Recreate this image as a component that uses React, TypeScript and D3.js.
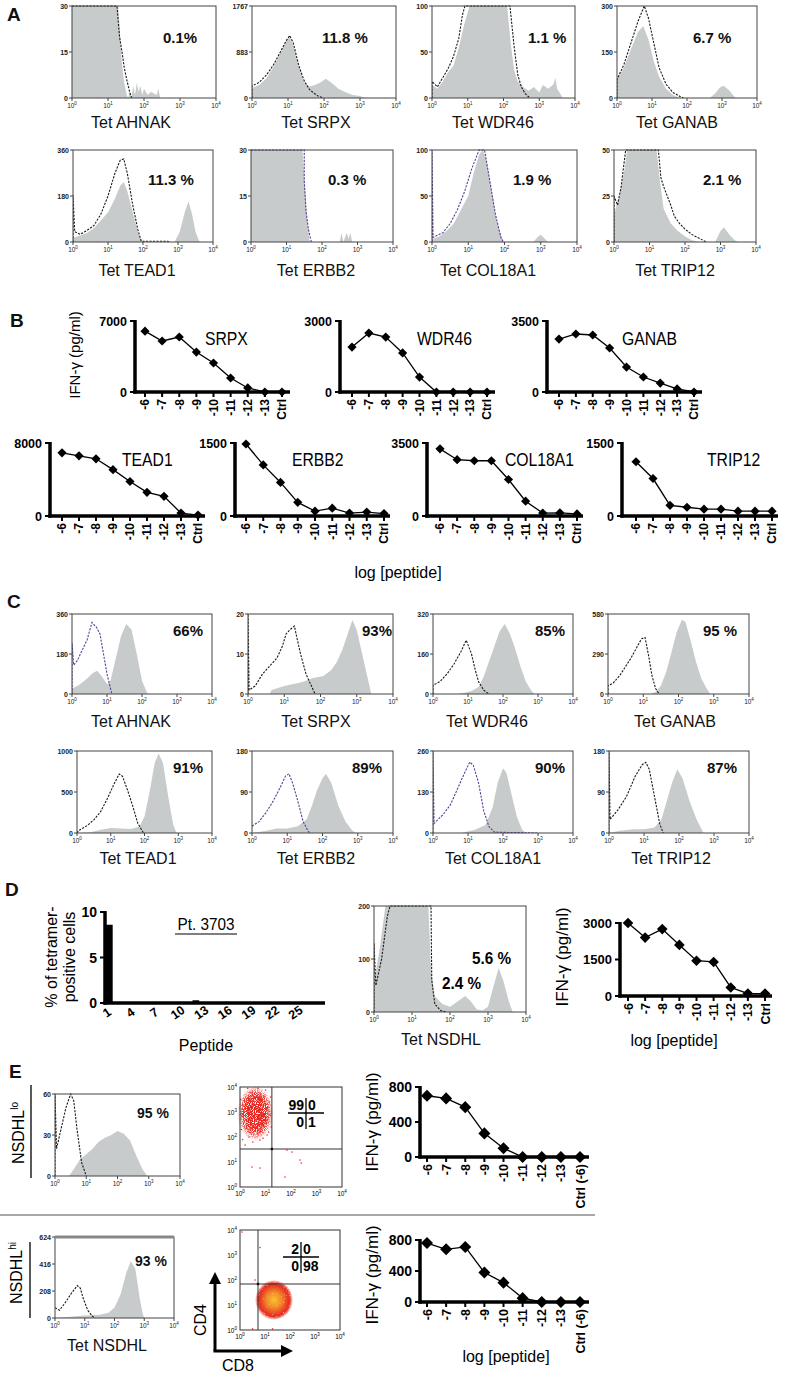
import React from 'react';
import * as d3 from 'd3';

type Pt = [number, number];

// ---------- Panel A histograms: [log10 decade, count] ----------
const aAhnakGray: Pt[] = [[0,30],[1.28,30],[1.33,22],[1.38,12],[1.45,5],[1.52,1],[1.56,0],[1.6,2],[1.65,0],[1.7,4],[1.75,1],[1.8,5],[1.85,2],[1.9,4],[1.95,1],[2.0,3],[2.1,1],[2.2,2],[2.35,1],[2.4,3],[2.45,0],[4,0]];
const aAhnakCtrl: Pt[] = [[0,30],[1.25,30],[1.32,20],[1.39,15],[1.45,10],[1.52,6],[1.6,2],[1.66,0]];
const aSrpxGray: Pt[] = [[0,190],[0.2,250],[0.4,380],[0.6,600],[0.8,880],[0.95,1100],[1.05,1170],[1.15,1000],[1.3,600],[1.45,300],[1.6,220],[1.75,250],[1.9,300],[2.05,370],[2.2,300],[2.4,180],[2.6,110],[2.8,60],[3.0,40],[3.1,10],[3.2,0],[4,0]];
const aSrpxCtrl: Pt[] = [[0,0],[0,230],[0.2,300],[0.4,440],[0.6,640],[0.8,900],[0.95,1100],[1.05,1200],[1.15,1050],[1.3,620],[1.45,330],[1.6,160],[1.8,50],[1.97,0]];
const aWdr46Gray: Pt[] = [[0,14],[0.15,10],[0.3,18],[0.45,28],[0.6,35],[0.75,55],[0.9,80],[1.05,100],[2.1,100],[2.2,60],[2.3,30],[2.4,18],[2.55,12],[2.7,8],[2.85,12],[3.0,6],[3.1,14],[3.25,10],[3.4,15],[3.45,22],[3.5,10],[3.6,4],[3.65,0],[4,0]];
const aWdr46Ctrl: Pt[] = [[0,0],[0,18],[0.15,12],[0.3,22],[0.45,32],[0.6,45],[0.75,65],[0.85,90],[0.92,100],[2.18,100],[2.3,55],[2.4,25],[2.5,12],[2.6,5],[2.74,0]];
const aGanabGray: Pt[] = [[0,60],[0.2,100],[0.4,160],[0.6,215],[0.75,235],[0.9,190],[1.05,120],[1.2,70],[1.4,30],[1.6,10],[1.8,0],[2.65,0],[2.8,15],[2.95,35],[3.05,40],[3.2,25],[3.35,5],[3.4,0],[4,0]];
const aGanabCtrl: Pt[] = [[0,0],[0,60],[0.2,110],[0.4,180],[0.6,250],[0.78,300],[0.9,260],[1.05,180],[1.2,100],[1.4,45],[1.6,18],[1.8,5],[1.9,0]];
const aTead1Gray: Pt[] = [[0,16],[0.2,25],[0.4,35],[0.6,55],[0.8,85],[1.0,115],[1.2,170],[1.35,220],[1.45,235],[1.55,200],[1.7,120],[1.85,40],[1.97,0],[2.9,0],[3.05,40],[3.2,120],[3.3,158],[3.4,110],[3.5,40],[3.6,5],[3.65,0],[4,0]];
const aTead1Ctrl: Pt[] = [[0,0],[0,184],[0.05,40],[0.2,30],[0.4,45],[0.6,65],[0.8,110],[1.0,180],[1.2,270],[1.35,320],[1.45,325],[1.55,270],[1.7,150],[1.85,50],[1.95,3],[2.7,3],[2.75,0]];
const aErbb2Gray: Pt[] = [[0,30],[1.45,30],[1.52,18],[1.58,8],[1.65,0],[2.5,0],[2.55,3],[2.6,0],[2.7,3],[2.75,1],[2.8,3],[2.85,0],[4,0]];
const aErbb2Ctrl: Pt[] = [[0,30],[1.5,30],[1.5,20],[1.55,10],[1.62,4],[1.7,0]];
const aCol18Gray: Pt[] = [[0,3],[0.2,6],[0.4,12],[0.6,20],[0.8,35],[1.0,50],[1.15,75],[1.3,95],[1.4,100],[1.5,90],[1.65,55],[1.8,20],[1.97,0],[2.8,0],[2.9,5],[3.0,8],[3.1,4],[3.2,0],[3.98,0],[4,4]];
const aCol18Ctrl: Pt[] = [[0,0],[0,100],[0.03,5],[0.3,10],[0.5,20],[0.7,35],[0.9,55],[1.1,80],[1.3,100],[1.45,100],[1.6,65],[1.75,30],[1.9,5],[1.97,0]];
const aTrip12Gray: Pt[] = [[0,15],[0.15,25],[0.3,40],[0.37,50],[1.2,50],[1.3,32],[1.4,18],[1.6,10],[1.8,6],[2.0,3],[2.2,1],[2.4,0],[2.85,0],[3.0,6],[3.1,8],[3.25,4],[3.4,1],[3.5,0],[4,0]];
const aTrip12Ctrl: Pt[] = [[0,0],[0,25],[0.1,20],[0.2,30],[0.33,50],[1.25,50],[1.32,35],[1.4,30],[1.5,25],[1.6,20],[1.7,14],[1.85,10],[2.0,7],[2.2,4],[2.4,2],[2.6,0]];

// ---------- Panel C histograms ----------
const cAhnakGray: Pt[] = [[0,25],[0.2,40],[0.4,65],[0.6,95],[0.72,105],[0.85,80],[1.0,45],[1.1,60],[1.25,160],[1.4,260],[1.55,315],[1.7,290],[1.85,180],[2.0,60],[2.15,5],[2.2,0],[4,0]];
const cAhnakCtrl: Pt[] = [[0,0],[0,230],[0.05,130],[0.15,150],[0.3,200],[0.43,243],[0.57,322],[0.7,300],[0.8,270],[0.9,180],[1.0,90],[1.14,0]];
const cSrpxGray: Pt[] = [[0,0],[0.6,0],[0.65,1],[1.0,2],[1.5,3],[1.8,4],[2.08,4.5],[2.3,6],[2.45,8],[2.6,11],[2.75,15],[2.88,18.5],[3.0,16],[3.15,10],[3.3,4],[3.4,0],[4,0]];
const cSrpxCtrl: Pt[] = [[0,0],[0,20],[0.03,1],[0.2,2],[0.4,5],[0.6,7],[0.8,9],[0.95,12],[1.05,15],[1.15,16],[1.28,17],[1.35,14],[1.45,10],[1.6,5],[1.75,2],[1.85,0]];
const cWdr46Gray: Pt[] = [[0,0],[0.7,0],[0.9,5],[1.1,12],[1.3,28],[1.45,70],[1.6,130],[1.75,190],[1.9,250],[2.05,280],[2.2,240],[2.35,180],[2.5,110],[2.65,50],[2.8,15],[2.9,0],[4,0]];
const cWdr46Ctrl: Pt[] = [[0,0],[0,35],[0.2,50],[0.4,80],[0.6,120],[0.8,170],[0.95,215],[1.1,160],[1.2,100],[1.3,50],[1.45,15],[1.6,0]];
const cGanabGray: Pt[] = [[0,0],[1.2,0],[1.35,15],[1.5,60],[1.65,160],[1.8,300],[1.95,450],[2.1,540],[2.2,520],[2.35,380],[2.5,230],[2.65,110],[2.8,40],[2.9,0],[4,0]];
const cGanabCtrl: Pt[] = [[0,0],[0,60],[0.15,80],[0.35,140],[0.5,200],[0.65,260],[0.8,330],[0.95,400],[1.05,410],[1.15,280],[1.25,130],[1.35,40],[1.45,0]];
const cTead1Gray: Pt[] = [[0,0],[0.4,10],[0.7,40],[1.0,60],[1.3,55],[1.6,50],[1.85,80],[2.0,200],[2.15,500],[2.3,850],[2.42,970],[2.55,850],[2.7,450],[2.85,100],[2.95,0],[4,0]];
const cTead1Ctrl: Pt[] = [[0,0],[0.05,30],[0.3,90],[0.5,160],[0.7,260],[0.9,420],[1.1,600],[1.25,720],[1.35,690],[1.5,520],[1.65,330],[1.8,120],[1.97,0]];
const cErbb2Gray: Pt[] = [[0,0],[0.4,5],[0.7,10],[1.0,10],[1.3,15],[1.55,30],[1.7,60],[1.85,95],[2.0,120],[2.1,130],[2.25,110],[2.45,60],[2.65,25],[2.85,5],[2.95,0],[4,0]];
const cErbb2Ctrl: Pt[] = [[0,15],[0.2,25],[0.4,45],[0.6,70],[0.8,100],[0.95,125],[1.05,130],[1.15,110],[1.3,70],[1.45,25],[1.6,3],[1.67,0]];
const cCol18Gray: Pt[] = [[0,0],[0.8,0],[1.2,10],[1.5,25],[1.7,80],[1.85,160],[2.0,205],[2.1,190],[2.25,120],[2.4,50],[2.55,10],[2.65,0],[4,0]];
const cCol18Ctrl: Pt[] = [[0,0],[0,260],[0.03,30],[0.3,60],[0.5,90],[0.7,140],[0.9,190],[1.05,225],[1.15,215],[1.3,160],[1.45,70],[1.6,20],[1.75,3],[2.0,2],[3.0,0]];
const cTrip12Gray: Pt[] = [[0,0],[0.3,5],[0.7,8],[1.0,8],[1.3,12],[1.5,30],[1.65,70],[1.8,110],[1.95,140],[2.1,120],[2.3,70],[2.5,30],[2.7,0],[4,0]];
const cTrip12Ctrl: Pt[] = [[0,0],[0,180],[0.03,30],[0.25,50],[0.5,80],[0.75,125],[0.95,150],[1.05,155],[1.15,140],[1.3,80],[1.45,20],[1.55,0]];

// ---------- Panel D / E histograms ----------
const dNsdhlGray: Pt[] = [[0,55],[0.15,120],[0.3,200],[1.43,200],[1.5,80],[1.6,30],[1.8,15],[2.0,10],[2.2,20],[2.4,30],[2.55,20],[2.7,5],[2.85,3],[3.0,10],[3.15,50],[3.28,83],[3.4,60],[3.55,20],[3.65,0],[4,0]];
const dNsdhlCtrl: Pt[] = [[0,0],[0,130],[0.05,50],[0.2,100],[0.35,180],[0.42,200],[1.5,200],[1.52,60],[1.6,15],[1.75,3],[1.9,0]];
const eLoGray: Pt[] = [[0,0],[0.45,0],[0.6,5],[0.8,12],[1.0,16],[1.2,20],[1.4,25],[1.6,28],[1.8,30],[2.0,33],[2.2,31],[2.4,26],[2.6,15],[2.8,5],[2.95,0],[4,0]];
const eLoCtrl: Pt[] = [[0,0],[0,60],[0.05,20],[0.2,35],[0.35,50],[0.5,60],[0.6,55],[0.7,35],[0.85,10],[1.0,0]];
const eHiGray: Pt[] = [[0,0],[0.5,10],[1.0,20],[1.5,25],[1.8,40],[2.0,80],[2.2,180],[2.4,350],[2.55,440],[2.7,380],[2.85,150],[2.95,30],[3.0,0],[4,0]];
const eHiCtrl: Pt[] = [[0,80],[0.15,60],[0.35,120],[0.55,190],[0.75,250],[0.85,230],[0.95,150],[1.1,60],[1.25,15],[1.35,0]];

// ---------- histogram y tick labels ----------
const tk30 = [0, 15, 30];
const tk1767 = [0, 883, 1767];
const tk100 = [0, 50, 100];
const tk300 = [0, 150, 300];
const tk360 = [0, 180, 360];
const tk50 = [0, 25, 50];
const tk20 = [0, 10, 20];
const tk320 = [0, 160, 320];
const tk580 = [0, 290, 580];
const tk1000 = [0, 500, 1000];
const tk180 = [0, 90, 180];
const tk260 = [0, 130, 260];
const tk200 = [0, 100, 200];
const tk60 = [0, 30, 60];
const tk624 = [0, 208, 416, 624];
const decades = [0, 1, 2, 3, 4];

// ---------- dose responses (IFN-γ pg/ml) ----------
const doseLabels = ['-6', '-7', '-8', '-9', '-10', '-11', '-12', '-13', 'Ctrl'];
const doseLabelsE = ['-6', '-7', '-8', '-9', '-10', '-11', '-12', '-13', 'Ctrl (-6)'];
const bSrpx = [6000, 5030, 5420, 3940, 2860, 1380, 400, 0, 0];
const bWdr46 = [1900, 2490, 2320, 1650, 630, 0, 0, 0, 0];
const bGanab = [2610, 2860, 2810, 2170, 1230, 740, 440, 150, 0];
const bTead1 = [6920, 6590, 6270, 5080, 3780, 2590, 2160, 320, 100];
const bErbb2 = [1480, 1050, 690, 280, 100, 160, 60, 80, 50];
const bCol18 = [3220, 2700, 2650, 2650, 1750, 710, 140, 150, 100];
const bTrip12 = [1115, 770, 220, 180, 140, 140, 100, 100, 100];
const dNsdhlDose = [3000, 2400, 2750, 2100, 1450, 1400, 350, 100, 100];
const eLoDose = [700, 670, 570, 270, 100, 0, 0, 0, 0];
const eHiDose = [760, 680, 710, 380, 250, 50, 0, 0, 0];

// ---------- Panel D peptide screen ----------
const peptides = d3.range(1, 29).map(String);
const peptideTickLabels = ['1', '4', '7', '10', '13', '16', '19', '22', '25'];
const peptidePct = [8.6, 0, 0, 0, 0, 0, 0, 0, 0, 0, 0, 0.3, 0, 0, 0, 0.12, 0, 0, 0, 0, 0, 0, 0, 0, 0, 0, 0, 0];

// ---------- Panel E dot plots: [log10 CD8, log10 CD4] ----------
const eLoDots: Pt[] = [[0.47,0.8],[0.78,0.76],[1.84,1.48],[2.04,1.4],[2.35,1.08],[2.4,0.96],[1.76,0.4],[0.2,1.68],[1.06,2.08],[1.0,3.88],[1.18,2.88],[0.78,1.88],[0.1,1.9],[0.5,1.8],[1.15,3.4],[1.22,2.4],[0.3,3.95],[0.7,3.95],[0.05,2.3],[1.12,2.2],[0.9,1.95],[0.35,2.0],[1.2,3.6],[0.02,3.5]];
const eLoCloud: Pt[] = [[0.6, 2.95]];
const eHiDots: Pt[] = [[0.08,3.92],[0.8,3.3],[0.5,0.05],[1.3,0.05],[0.6,2.0]];
const eHiCloud: Pt[] = [[1.36, 1.2]];

const SANS = "'Liberation Sans', Arial, Helvetica, sans-serif";
const GRAY = '#c7cbcc';
const PURPLE = '#5a3f94';

type HistCfg = {
  gray: Pt[]; ctrl: Pt[]; ticks: number[]; ctrlColor?: string;
  x: number; y: number; w: number; h: number;
  pct?: string; pctX?: number; pctY?: number; pctSize?: number;
  title?: string; titleX?: number; titleY?: number; titleSize?: number;
  thickTop?: boolean;
};

function Hist({ c, id }: { c: HistCfg; id: string }) {
  const max = c.ticks[c.ticks.length - 1];
  const xs = d3.scaleLog().domain([1, 1e4]).range([c.x, c.x + c.w]);
  const ys = d3.scaleLinear().domain([0, max]).range([c.y + c.h, c.y]).clamp(true);
  const area = d3.area<Pt>().x(d => xs(10 ** d[0])).y0(c.y + c.h).y1(d => ys(d[1]));
  const line = d3.line<Pt>().x(d => xs(10 ** d[0])).y(d => ys(d[1]));
  return (
    <g>
      <clipPath id={id}><rect x={c.x} y={c.y - 1} width={c.w} height={c.h + 1} /></clipPath>
      <g clipPath={`url(#${id})`}>
        <path d={area(c.gray) || ''} fill={GRAY} />
        <path d={line(c.ctrl) || ''} fill="none" stroke={c.ctrlColor || '#1a1a1a'} strokeWidth={1.1} strokeDasharray="2.2,1.3" />
      </g>
      <rect x={c.x} y={c.y} width={c.w} height={c.h} fill="none" stroke="#444" strokeWidth={1} />
      {c.thickTop && <line x1={c.x} x2={c.x + c.w} y1={c.y} y2={c.y} stroke="#888" strokeWidth={3} />}
      {c.ticks.map(t => (
        <g key={t}>
          <line x1={c.x - 3} x2={c.x} y1={ys(t)} y2={ys(t)} stroke="#444" />
          <text x={c.x - 4} y={ys(t) + 2.5} textAnchor="end" fontSize={7} fontWeight="bold" fontFamily={SANS} fill="#222">{t}</text>
        </g>
      ))}
      {decades.map(dd => (
        <g key={dd}>
          <line x1={xs(10 ** dd)} x2={xs(10 ** dd)} y1={c.y + c.h} y2={c.y + c.h + 3} stroke="#444" />
          <text x={xs(10 ** dd)} y={c.y + c.h + 10} textAnchor="middle" fontSize={6.5} fontFamily={SANS} fill="#222">
            10<tspan dy={-3} fontSize={4.5}>{dd}</tspan>
          </text>
        </g>
      ))}
      {c.pct && <text x={c.pctX} y={c.pctY} fontSize={c.pctSize || 15} fontWeight="bold" fontFamily={SANS} fill="#111">{c.pct}</text>}
      {c.title && <text x={c.titleX} y={c.titleY} textAnchor="middle" fontSize={c.titleSize || 16} fontFamily={SANS} fill="#111">{c.title}</text>}
    </g>
  );
}

type DoseCfg = {
  values: number[]; labels: string[]; ticks: number[];
  ox: number; top: number; zero: number; xEnd: number; padL: number; padR: number;
  name?: string; nameX?: number; nameY?: number;
  tickSize: number; labelSize: number; diam: number;
};

function Dose({ c }: { c: DoseCfg }) {
  const max = c.ticks[c.ticks.length - 1];
  const xs = d3.scalePoint<string>().domain(c.labels).range([c.ox + c.padL, c.xEnd - c.padR]);
  const ys = d3.scaleLinear().domain([0, max]).range([c.zero, c.top]);
  const line = d3.line<number>().x((_, i) => xs(c.labels[i]) as number).y(d => ys(d));
  return (
    <g>
      <path d={line(c.values) || ''} fill="none" stroke="#000" strokeWidth={1.3} />
      {c.values.map((v, i) => (
        <rect key={i} x={-c.diam / 2} y={-c.diam / 2} width={c.diam} height={c.diam} fill="#000"
          transform={`translate(${xs(c.labels[i])},${ys(v)}) rotate(45)`} />
      ))}
      <line x1={c.ox} x2={c.ox} y1={c.top - 1} y2={c.zero + 1.7} stroke="#000" strokeWidth={3.5} />
      <line x1={c.ox - 1.7} x2={c.xEnd} y1={c.zero} y2={c.zero} stroke="#000" strokeWidth={3.5} />
      {c.ticks.map(t => (
        <g key={t}>
          <line x1={c.ox - 5} x2={c.ox} y1={ys(t)} y2={ys(t)} stroke="#000" strokeWidth={2} />
          <text x={c.ox - 8} y={ys(t) + c.tickSize * 0.36} textAnchor="end" fontSize={c.tickSize} fontWeight="bold" fontFamily={SANS}>{t}</text>
        </g>
      ))}
      {c.labels.map(l => (
        <g key={l}>
          <line x1={xs(l)} x2={xs(l)} y1={c.zero} y2={c.zero + 5} stroke="#000" strokeWidth={2} />
          <text transform={`translate(${xs(l)},${c.zero + 7}) rotate(-90)`} textAnchor="end" dy="0.36em"
            fontSize={c.labelSize} fontWeight="bold" fontFamily={SANS}>{l}</text>
        </g>
      ))}
      {c.name && <text transform={`translate(${c.nameX},${c.nameY}) scale(0.9,1)`} fontSize={17.5} fontFamily={SANS}>{c.name}</text>}
    </g>
  );
}

type DotCfg = { dots: Pt[]; cloud: Pt[]; x: number; y: number; w: number; h: number; qx: number; qy: number; grad: string; filter: string; rx: number; ry: number; q: string[]; cx: number; cy: number };

function DotPlot({ c }: { c: DotCfg }) {
  const xs = d3.scaleLog().domain([1, 1e4]).range([c.x, c.x + c.w]);
  const ys = d3.scaleLog().domain([1, 1e4]).range([c.y + c.h, c.y]);
  return (
    <g>
      <g filter={`url(#${c.filter})`}>
        {c.cloud.map((p, i) => (
          <ellipse key={i} cx={xs(10 ** p[0])} cy={ys(10 ** p[1])} rx={c.rx} ry={c.ry} fill={`url(#${c.grad})`} />
        ))}
      </g>
      {c.dots.map((p, i) => (
        <rect key={i} x={xs(10 ** p[0]) - 0.6} y={ys(10 ** p[1]) - 0.6} width={1.3} height={1.3} fill="#e3262a" />
      ))}
      <rect x={c.x} y={c.y} width={c.w} height={c.h} fill="none" stroke="#333" strokeWidth={1} />
      <line x1={xs(10 ** c.qx)} x2={xs(10 ** c.qx)} y1={c.y} y2={c.y + c.h} stroke="#333" strokeWidth={1} />
      <line x1={c.x} x2={c.x + c.w} y1={ys(10 ** c.qy)} y2={ys(10 ** c.qy)} stroke="#333" strokeWidth={1} />
      <rect x={xs(10 ** c.qx) - 1.2} y={ys(10 ** c.qy) - 1.2} width={2.4} height={2.4} fill="#111" />
      {decades.map(dd => (
        <g key={dd}>
          <text x={xs(10 ** dd)} y={c.y + c.h + 9} textAnchor="middle" fontSize={6.5} fontFamily={SANS}>10<tspan dy={-3} fontSize={4.5}>{dd}</tspan></text>
          <text x={c.x - 3} y={ys(10 ** dd) + 2.5} textAnchor="end" fontSize={6.5} fontFamily={SANS}>10<tspan dy={-3} fontSize={4.5}>{dd}</tspan></text>
        </g>
      ))}
      <line x1={c.cx - 18} x2={c.cx + 18} y1={c.cy} y2={c.cy} stroke="#000" strokeWidth={1.3} />
      <line x1={c.cx} x2={c.cx} y1={c.cy - 15} y2={c.cy + 16} stroke="#000" strokeWidth={1.3} />
      <text x={c.cx - 2} y={c.cy - 3} textAnchor="end" fontSize={14} fontWeight="bold" fontFamily={SANS}>{c.q[0]}</text>
      <text x={c.cx + 2} y={c.cy - 3} fontSize={14} fontWeight="bold" fontFamily={SANS}>{c.q[1]}</text>
      <text x={c.cx - 2} y={c.cy + 14} textAnchor="end" fontSize={14} fontWeight="bold" fontFamily={SANS}>{c.q[2]}</text>
      <text x={c.cx + 2} y={c.cy + 14} fontSize={14} fontWeight="bold" fontFamily={SANS}>{c.q[3]}</text>
    </g>
  );
}

const histA: HistCfg[] = [
  { gray: aAhnakGray, ctrl: aAhnakCtrl, ticks: tk30, x: 72, y: 6, w: 144, h: 92, pct: '0.1%', pctX: 163, pctY: 43, title: 'Tet AHNAK', titleX: 131, titleY: 128 },
  { gray: aSrpxGray, ctrl: aSrpxCtrl, ticks: tk1767, x: 252, y: 6, w: 144, h: 92, pct: '11.8 %', pctX: 322, pctY: 43, title: 'Tet SRPX', titleX: 316, titleY: 128 },
  { gray: aWdr46Gray, ctrl: aWdr46Ctrl, ticks: tk100, x: 432, y: 6, w: 143, h: 92, pct: '1.1 %', pctX: 528, pctY: 43, title: 'Tet WDR46', titleX: 493, titleY: 128 },
  { gray: aGanabGray, ctrl: aGanabCtrl, ticks: tk300, x: 617, y: 6, w: 140, h: 92, pct: '6.7 %', pctX: 693, pctY: 43, title: 'Tet GANAB', titleX: 677, titleY: 128 },
  { gray: aTead1Gray, ctrl: aTead1Ctrl, ticks: tk360, x: 73, y: 150, w: 140, h: 92, pct: '11.3 %', pctX: 148, pctY: 185, title: 'Tet TEAD1', titleX: 137, titleY: 276 },
  { gray: aErbb2Gray, ctrl: aErbb2Ctrl, ctrlColor: PURPLE, ticks: tk30, x: 251, y: 150, w: 142, h: 92, pct: '0.3 %', pctX: 328, pctY: 185, title: 'Tet ERBB2', titleX: 316, titleY: 276 },
  { gray: aCol18Gray, ctrl: aCol18Ctrl, ctrlColor: PURPLE, ticks: tk100, x: 432, y: 150, w: 145, h: 92, pct: '1.9 %', pctX: 513, pctY: 185, title: 'Tet COL18A1', titleX: 488, titleY: 276 },
  { gray: aTrip12Gray, ctrl: aTrip12Ctrl, ticks: tk50, x: 614, y: 150, w: 142, h: 92, pct: '2.1 %', pctX: 703, pctY: 185, title: 'Tet TRIP12', titleX: 675, titleY: 276 },
];

const histC: HistCfg[] = [
  { gray: cAhnakGray, ctrl: cAhnakCtrl, ctrlColor: PURPLE, ticks: tk360, x: 72, y: 614, w: 140, h: 80, pct: '66%', pctX: 173, pctY: 636, title: 'Tet AHNAK', titleX: 131, titleY: 727 },
  { gray: cSrpxGray, ctrl: cSrpxCtrl, ticks: tk20, x: 248, y: 614, w: 145, h: 80, pct: '93%', pctX: 362, pctY: 636, title: 'Tet SRPX', titleX: 316, titleY: 727 },
  { gray: cWdr46Gray, ctrl: cWdr46Ctrl, ticks: tk320, x: 433, y: 614, w: 140, h: 80, pct: '85%', pctX: 535, pctY: 636, title: 'Tet WDR46', titleX: 487, titleY: 727 },
  { gray: cGanabGray, ctrl: cGanabCtrl, ticks: tk580, x: 608, y: 614, w: 141, h: 80, pct: '95 %', pctX: 703, pctY: 636, title: 'Tet GANAB', titleX: 675, titleY: 727 },
  { gray: cTead1Gray, ctrl: cTead1Ctrl, ticks: tk1000, x: 77, y: 751, w: 135, h: 82, pct: '91%', pctX: 173, pctY: 773, title: 'Tet TEAD1', titleX: 138, titleY: 864 },
  { gray: cErbb2Gray, ctrl: cErbb2Ctrl, ctrlColor: PURPLE, ticks: tk180, x: 252, y: 751, w: 141, h: 82, pct: '89%', pctX: 352, pctY: 773, title: 'Tet ERBB2', titleX: 316, titleY: 864 },
  { gray: cCol18Gray, ctrl: cCol18Ctrl, ctrlColor: PURPLE, ticks: tk260, x: 433, y: 751, w: 140, h: 82, pct: '90%', pctX: 535, pctY: 773, title: 'Tet COL18A1', titleX: 493, titleY: 864 },
  { gray: cTrip12Gray, ctrl: cTrip12Ctrl, ticks: tk180, x: 609, y: 751, w: 140, h: 82, pct: '87%', pctX: 707, pctY: 773, title: 'Tet TRIP12', titleX: 671, titleY: 864 },
];

const histDE: HistCfg[] = [
  { gray: dNsdhlGray, ctrl: dNsdhlCtrl, ticks: tk200, x: 374, y: 906, w: 152, h: 106, title: 'Tet NSDHL', titleX: 441, titleY: 1045, titleSize: 16 },
  { gray: eLoGray, ctrl: eLoCtrl, ticks: tk60, x: 55, y: 1094, w: 125, h: 82, pct: '95 %', pctX: 137, pctY: 1118, pctSize: 14 },
  { gray: eHiGray, ctrl: eHiCtrl, ticks: tk624, x: 55, y: 1237, w: 119, h: 81, pct: '93 %', pctX: 135, pctY: 1266, pctSize: 14, title: 'Tet NSDHL', titleX: 107, titleY: 1351, titleSize: 16, thickTop: true },
];

const doseB: DoseCfg[] = [
  { values: bSrpx, labels: doseLabels, ticks: [0, 7000], ox: 135, top: 321, zero: 392, xEnd: 290, padL: 10, padR: 8, name: 'SRPX', nameX: 205, nameY: 345, tickSize: 12.5, labelSize: 12, diam: 6.5 },
  { values: bWdr46, labels: doseLabels, ticks: [0, 3000], ox: 340, top: 321, zero: 392, xEnd: 495, padL: 12, padR: 8, name: 'WDR46', nameX: 417, nameY: 345, tickSize: 12.5, labelSize: 12, diam: 6.5 },
  { values: bGanab, labels: doseLabels, ticks: [0, 3500], ox: 547, top: 321, zero: 392, xEnd: 702, padL: 12, padR: 8, name: 'GANAB', nameX: 622, nameY: 345, tickSize: 12.5, labelSize: 12, diam: 6.5 },
  { values: bTead1, labels: doseLabels, ticks: [0, 8000], ox: 50, top: 443, zero: 516, xEnd: 205, padL: 12, padR: 7, name: 'TEAD1', nameX: 122, nameY: 466, tickSize: 12.5, labelSize: 12, diam: 6.5 },
  { values: bErbb2, labels: doseLabels, ticks: [0, 1500], ox: 235, top: 443, zero: 516, xEnd: 390, padL: 11, padR: 6, name: 'ERBB2', nameX: 292, nameY: 466, tickSize: 12.5, labelSize: 12, diam: 6.5 },
  { values: bCol18, labels: doseLabels, ticks: [0, 3500], ox: 427, top: 443, zero: 516, xEnd: 583, padL: 13, padR: 6, name: 'COL18A1', nameX: 505, nameY: 466, tickSize: 12.5, labelSize: 12, diam: 6.5 },
  { values: bTrip12, labels: doseLabels, ticks: [0, 1500], ox: 622, top: 443, zero: 516, xEnd: 778, padL: 14, padR: 6, name: 'TRIP12', nameX: 707, nameY: 466, tickSize: 12.5, labelSize: 12, diam: 6.5 },
];

const doseDE: DoseCfg[] = [
  { values: dNsdhlDose, labels: doseLabels, ticks: [0, 1500, 3000], ox: 620, top: 923, zero: 996, xEnd: 772, padL: 8, padR: 7, tickSize: 13, labelSize: 12.5, diam: 7.5 },
  { values: eLoDose, labels: doseLabelsE, ticks: [0, 400, 800], ox: 420, top: 1087, zero: 1157, xEnd: 589, padL: 7, padR: 9, tickSize: 14, labelSize: 12.5, diam: 8.5 },
  { values: eHiDose, labels: doseLabelsE, ticks: [0, 400, 800], ox: 420, top: 1240, zero: 1302, xEnd: 589, padL: 7, padR: 9, tickSize: 14, labelSize: 12.5, diam: 8.5 },
];

const dots: DotCfg[] = [
  { dots: eLoDots, cloud: eLoCloud, x: 240, y: 1087, w: 102, h: 100, qx: 1.25, qy: 1.52, grad: 'gLo', filter: 'speckLo', rx: 18, ry: 27, q: ['99', '0', '0', '1'], cx: 306, cy: 1113 },
  { dots: eHiDots, cloud: eHiCloud, x: 240, y: 1230, w: 100, h: 100, qx: 0.72, qy: 1.84, grad: 'gHi', filter: 'speckHi', rx: 19, ry: 20, q: ['2', '0', '0', '98'], cx: 301, cy: 1257 },
];

function PeptideBars() {
  const x0 = 105, top = 912, zero = 1003, xEnd = 325;
  const xs = d3.scaleBand<string>().domain(peptides).range([x0 + 1, xEnd]).paddingInner(0.15);
  const ys = d3.scaleLinear().domain([0, 10]).range([zero, top]);
  return (
    <g>
      {peptidePct.map((v, i) => (
        <rect key={i} x={xs(peptides[i])} y={ys(v)} width={xs.bandwidth()} height={zero - ys(v)} fill="#000" />
      ))}
      <line x1={x0} x2={x0} y1={top - 1} y2={zero + 1.7} stroke="#000" strokeWidth={3.5} />
      <line x1={x0 - 1.7} x2={xEnd} y1={zero} y2={zero} stroke="#000" strokeWidth={3.5} />
      {[0, 5, 10].map(t => (
        <g key={t}>
          <line x1={x0 - 5} x2={x0} y1={ys(t)} y2={ys(t)} stroke="#000" strokeWidth={2} />
          <text x={x0 - 8} y={ys(t) + 5} textAnchor="end" fontSize={14} fontWeight="bold" fontFamily={SANS}>{t}</text>
        </g>
      ))}
      {peptideTickLabels.map(l => (
        <text key={l} transform={`translate(${(xs(l) as number) + xs.bandwidth() / 2},${zero + 13}) rotate(-35)`} textAnchor="middle"
          fontSize={12.5} fontWeight="bold" fontFamily={SANS}>{l}</text>
      ))}
      <text transform="translate(206,930) scale(0.9,1)" textAnchor="middle" fontSize={17} fontFamily={SANS}>Pt. 3703</text>
      <line x1={175} x2={237} y1={934} y2={934} stroke="#000" strokeWidth={1.2} />
      <text x={206} y={1051} textAnchor="middle" fontSize={16} fontFamily={SANS}>Peptide</text>
      <text transform="translate(57,957) rotate(-90)" textAnchor="middle" fontSize={16} fontFamily={SANS}>% of tetramer-</text>
      <text transform="translate(75,957) rotate(-90)" textAnchor="middle" fontSize={16} fontFamily={SANS}>positive cells</text>
    </g>
  );
}

export default function App() {
  const letter = (t: string, x: number, y: number) => (
    <text x={x} y={y} fontSize={19} fontWeight="900" fontFamily={SANS} fill="#111">{t}</text>
  );
  return (
    <svg width={787} height={1389} style={{ position: 'absolute', left: 0, top: 0, background: '#fff' }}>
      <defs>
        <radialGradient id="gLo">
          <stop offset="0%" stopColor="#e8201c" />
          <stop offset="60%" stopColor="#ea2a22" />
          <stop offset="100%" stopColor="#ee4a40" stopOpacity={0} />
        </radialGradient>
        <radialGradient id="gHi">
          <stop offset="0%" stopColor="#f8c42c" />
          <stop offset="40%" stopColor="#f3882a" />
          <stop offset="75%" stopColor="#e83424" />
          <stop offset="100%" stopColor="#e83424" stopOpacity={0} />
        </radialGradient>
        <filter id="speckLo" x="-30%" y="-30%" width="160%" height="160%">
          <feTurbulence type="fractalNoise" baseFrequency="1.1" numOctaves={1} seed={4} result="noise" />
          <feColorMatrix in="noise" type="matrix" values="0 0 0 0 0  0 0 0 0 0  0 0 0 0 0  3.5 0 0 0 -1.2" result="mask" />
          <feComposite in="SourceGraphic" in2="mask" operator="in" result="sp" />
          <feComponentTransfer in="sp"><feFuncA type="linear" slope={1.8} /></feComponentTransfer>
        </filter>
        <filter id="speckHi" x="-30%" y="-30%" width="160%" height="160%">
          <feTurbulence type="fractalNoise" baseFrequency="1.1" numOctaves={1} seed={7} result="noise" />
          <feColorMatrix in="noise" type="matrix" values="0 0 0 0 0  0 0 0 0 0  0 0 0 0 0  3 0 0 0 -0.4" result="mask" />
          <feComposite in="SourceGraphic" in2="mask" operator="in" result="sp" />
          <feComponentTransfer in="sp"><feFuncA type="linear" slope={1.6} /></feComponentTransfer>
        </filter>
      </defs>
      <rect x={0} y={0} width={787} height={1389} fill="#fff" />
      {letter('A', 7, 21)}
      {letter('B', 10, 327)}
      {letter('C', 7, 608)}
      {letter('D', 5, 896)}
      {letter('E', 9, 1078)}

      {histA.map((c, i) => <Hist key={i} c={c} id={`ha${i}`} />)}

      <text transform="translate(80,355) rotate(-90)" textAnchor="middle" fontSize={15} fontFamily={SANS}>IFN-γ (pg/ml)</text>
      {doseB.map((c, i) => <Dose key={i} c={c} />)}
      <text x={398} y={578} textAnchor="middle" fontSize={16} fontFamily={SANS}>log [peptide]</text>

      {histC.map((c, i) => <Hist key={i} c={c} id={`hc${i}`} />)}

      <PeptideBars />
      {histDE.map((c, i) => <Hist key={i} c={c} id={`hd${i}`} />)}
      <text transform="translate(472,964) scale(0.9,1)" fontSize={17} fontWeight="bold" fontFamily={SANS}>5.6 %</text>
      <text transform="translate(442,989) scale(0.9,1)" fontSize={17} fontWeight="bold" fontFamily={SANS}>2.4 %</text>

      {doseDE.map((c, i) => <Dose key={i} c={c} />)}
      <text transform="translate(568,957) rotate(-90)" textAnchor="middle" fontSize={17} fontFamily={SANS}>IFN-γ (pg/ml)</text>
      <text x={674} y={1046} textAnchor="middle" fontSize={16} fontFamily={SANS}>log [peptide]</text>

      {dots.map((c, i) => <DotPlot key={i} c={c} />)}

      <text transform="translate(378,1122) rotate(-90)" textAnchor="middle" fontSize={17} fontFamily={SANS}>IFN-γ (pg/ml)</text>
      <text transform="translate(378,1275) rotate(-90)" textAnchor="middle" fontSize={17} fontFamily={SANS}>IFN-γ (pg/ml)</text>
      <text x={506} y={1362} textAnchor="middle" fontSize={16} fontFamily={SANS}>log [peptide]</text>

      <text transform="translate(24,1133) rotate(-90)" textAnchor="middle" fontSize={16} fontFamily={SANS}>NSDHL<tspan dy={-6} fontSize={10}>lo</tspan></text>
      <line x1={31} x2={31} y1={1085} y2={1178} stroke="#000" strokeWidth={1.3} />
      <text transform="translate(22,1273) rotate(-90)" textAnchor="middle" fontSize={16} fontFamily={SANS}>NSDHL<tspan dy={-6} fontSize={10}>hi</tspan></text>
      <line x1={30} x2={30} y1={1242} y2={1318} stroke="#000" strokeWidth={1.3} />

      <line x1={0} x2={595} y1={1215} y2={1215} stroke="#a8a8a8" strokeWidth={2} />

      <line x1={215} x2={215} y1={1351} y2={1282} stroke="#000" strokeWidth={3} />
      <path d="M215,1272 L209,1284 L221,1284 Z" fill="#000" />
      <line x1={213.5} x2={283} y1={1351} y2={1351} stroke="#000" strokeWidth={3} />
      <path d="M293,1351 L281,1345 L281,1357 Z" fill="#000" />
      <text transform="translate(206,1320) rotate(-90)" textAnchor="middle" fontSize={16} fontFamily={SANS}>CD4</text>
      <text x={238} y={1371} textAnchor="middle" fontSize={16} fontFamily={SANS}>CD8</text>
    </svg>
  );
}
